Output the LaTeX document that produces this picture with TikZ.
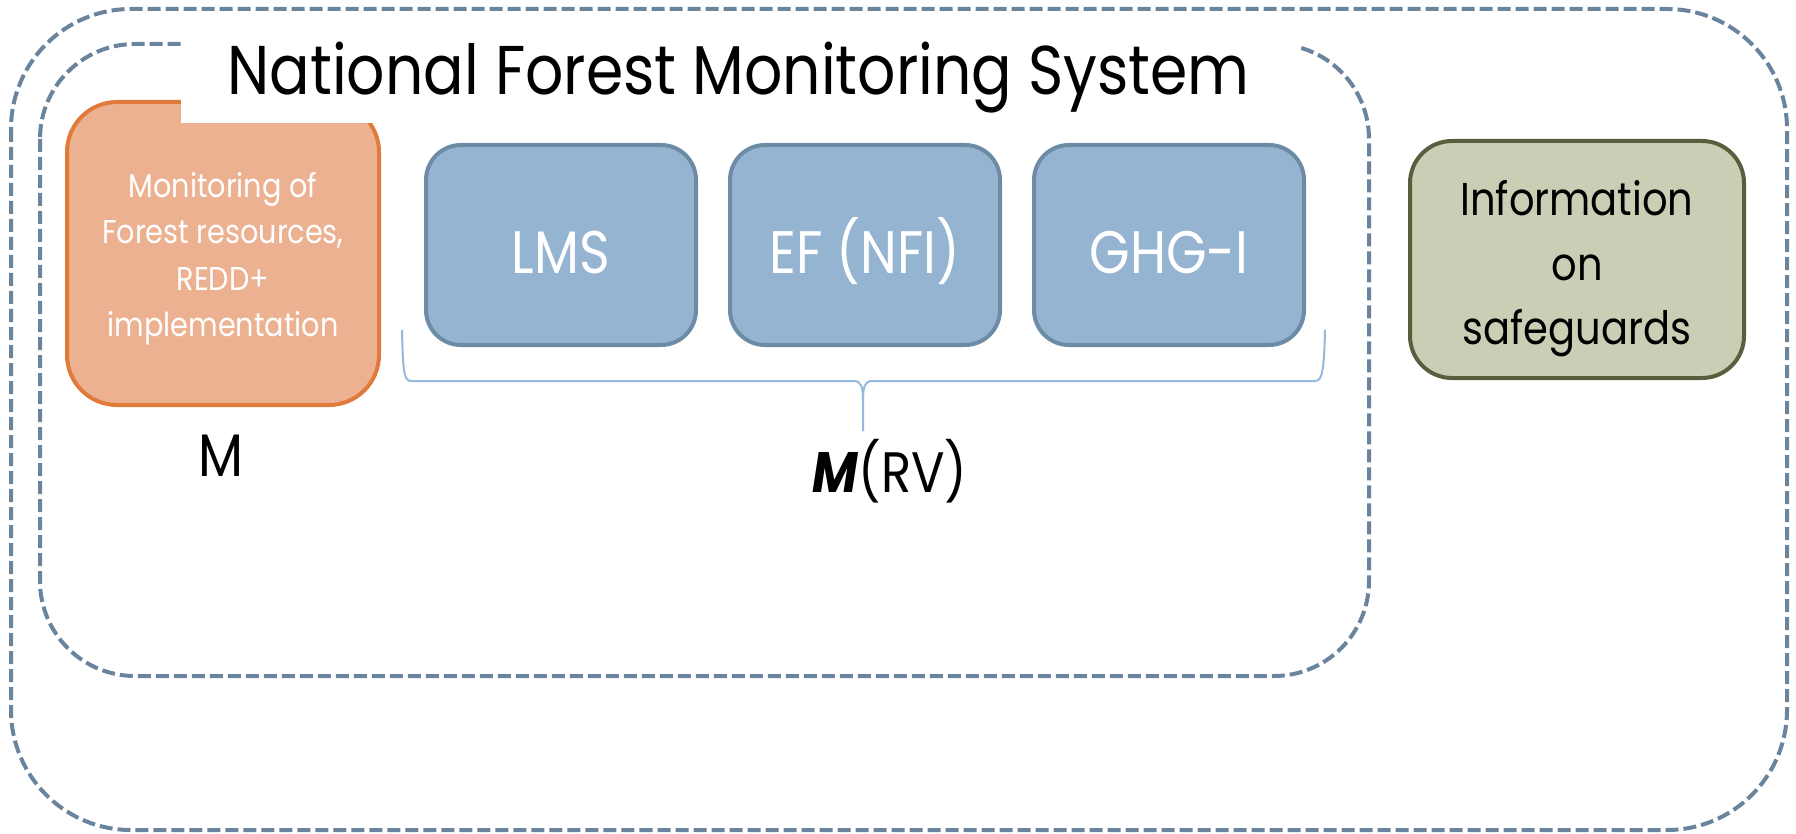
\documentclass[tikz,border=0pt]{standalone}
\usepackage{fontspec}
\setmainfont{Poppins}[FakeStretch=0.87]
\usepackage{tikz}
\usetikzlibrary{positioning, calc}

\definecolor{dashblue}{HTML}{6A849E}
\definecolor{orangefill}{HTML}{ECB190}
\definecolor{orangeline}{HTML}{E07B3C}
\definecolor{bluefill}{HTML}{95B4D2}
\definecolor{blueline}{HTML}{6E8BA6}
\definecolor{olivefill}{HTML}{CBCDB4}
\definecolor{oliveline}{HTML}{5B5E3D}
\definecolor{bracecol}{HTML}{95B8DD}

\begin{document}
\begin{tikzpicture}[x=1pt, y=-1pt, node distance=30pt,
  frame/.style={draw=dashblue, line width=4pt, dash pattern=on 13pt off 5pt},
  bluebox/.style={draw=blueline, fill=bluefill, line width=4pt, rounded corners=35pt,
    minimum width=270pt, minimum height=200pt, inner sep=0pt, text=white,
    text height=58pt, text depth=0pt, font=\fontsize{60}{72}\selectfont},
  orangebox/.style={draw=orangeline, fill=orangefill, line width=4pt, rounded corners=50pt,
    minimum width=312pt, minimum height=303pt, inner sep=0pt, text=white, align=center,
    text height=166pt, text depth=0pt, font=\fontsize{33}{46.5}\selectfont},
  olivebox/.style={draw=oliveline, fill=olivefill, line width=4pt, rounded corners=42pt,
    minimum width=334pt, minimum height=237pt, inner sep=0pt, align=center,
    text height=170pt, text depth=0pt, font=\fontsize{46}{64.5}\selectfont},
  brace/.style={draw=bracecol, line width=2pt}]

\useasboundingbox (0,0) rectangle (1796,834);

% Dashed frames
\draw[frame, rounded corners=120pt] (11,9) rectangle (1787,830);
\draw[frame, rounded corners=95pt] (40,44) rectangle (1369,676);

% Monitoring (left)
\node (mon) [orangebox] at (223,253.5) {Monitoring of\\Forest resources,\\REDD+\\implementation};

% Title cut into the frame
\node (titlebox) [fill=white, minimum width=1119pt, minimum height=93pt] at (740.5,76.5) {};
\node (title) [anchor=base, font=\fontsize{69}{80}\selectfont] at (738.5,95) {National Forest Monitoring System};

% MRV boxes
\node (lms) [bluebox] at (561,245) {LMS};
\node (ef) [bluebox, right=of lms] {EF (NFI)};
\node (ghg) [bluebox, right=of ef] {GHG-I};

% Safeguards (right)
\node (info) [olivebox] at (1577,259.5) {Information\\on\\safeguards};

% Brace under the MRV boxes
\draw[brace] (402,330) .. controls (403,372) and (404,381) .. (411,381) -- (854,381)
  .. controls (861,381) and (863,387) .. (863,400) -- (863,431)
  (863,400) .. controls (863,387) and (865,381) .. (872,381) -- (1315,381)
  .. controls (1322,381) and (1324,372) .. (1325,330);

% Labels
\node (m) [anchor=base, inner sep=0pt, font=\fontsize{60}{70}\selectfont] at (221,476) {M};
\node (mrv) [anchor=base, inner sep=0pt, font=\fontsize{57}{70}\selectfont] at (890,492) {\textbf{\textit{M}}(RV)};

\end{tikzpicture}
\end{document}
